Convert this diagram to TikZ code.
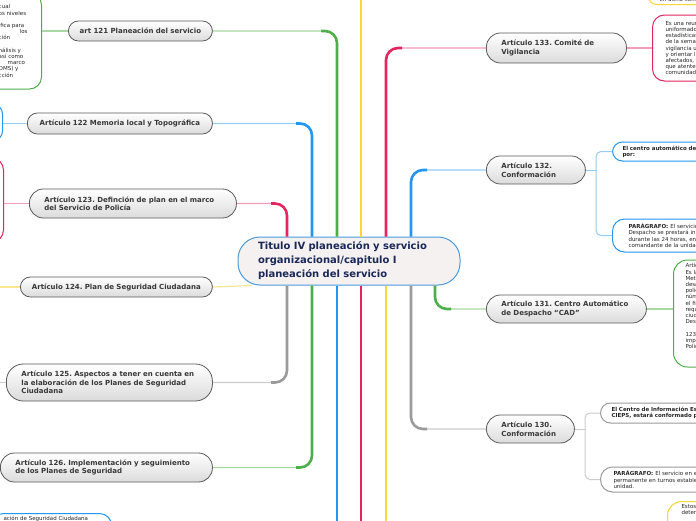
\documentclass[tikz,border=0pt]{standalone}
\usepackage{fontspec}
\setmainfont{DejaVu Sans}
\usetikzlibrary{calc}
\frenchspacing

\definecolor{mmGreen}{HTML}{4DAF4A}
\definecolor{mmGreenL}{HTML}{A9D8A2}
\definecolor{mmBlue}{HTML}{2196F3}
\definecolor{mmBlueL}{HTML}{93CDF8}
\definecolor{mmPink}{HTML}{E6245F}
\definecolor{mmPinkL}{HTML}{F59BBB}
\definecolor{mmYellow}{HTML}{F9D535}
\definecolor{mmYellowL}{HTML}{FBE792}
\definecolor{mmGray}{HTML}{9A9A9A}
\definecolor{mmGrayL}{HTML}{CCCCCC}
\definecolor{mmNavy}{HTML}{1A2857}
\definecolor{mmTitleFill}{HTML}{F5F1F1}
\definecolor{mmTitleLine}{HTML}{4A9BDB}

\begin{document}
\begin{tikzpicture}[x=1pt, y=-1pt,
    topic/.style={rectangle, rounded corners=10pt, draw=black!65, line width=0.8pt, top color=white, bottom color=black!14, text=black!78, font=\fontsize{7}{8.5}\selectfont\bfseries, inner ysep=2pt},
    leaf/.style={rectangle, rounded corners=10pt, draw=#1, line width=1pt, fill=white, text=black!85, font=\fontsize{5.5}{6.2}\selectfont, align=left, inner ysep=3pt},
    trunk/.style={draw=#1, line width=2.6pt, rounded corners=12pt},
    twig/.style={draw=#1, line width=1.2pt, rounded corners=12pt}]
    \useasboundingbox (0,0) rectangle (696,520);
    \fill[white] (0,0) rectangle (696,520);
    \clip (0,0) rectangle (696,520);

    % Main topic
    \node [rectangle, rounded corners=22pt, draw=mmTitleLine, line width=1pt, fill=mmTitleFill, text=mmNavy, font=\fontsize{10}{14}\selectfont\bfseries, text width=182pt, inner xsep=20pt, inner ysep=2pt, minimum height=48pt, align=left] (titulo) at (349,261) {Titulo IV planeación y servicio\\organizacional/capitulo I\\planeación del servicio};

    % Articles, left
    \node [topic, anchor=west, text width=130pt, inner xsep=7pt, minimum height=20pt, align=center] (art121) at (68,31) {art 121 Planeación del servicio};
    \node [topic, anchor=west, text width=171pt, inner xsep=7pt, minimum height=21pt, align=center] (art122) at (27,123.5) {Artículo 122 Memoria local y Topográfica};
    \node [topic, anchor=west, text width=177pt, inner xsep=15pt, minimum height=29pt, rounded corners=14pt, align=left] (art123) at (29,203.5) {Artículo 123. Definción de plan en el marco\\del Servicio de Policía};
    \node [topic, anchor=west, text width=178pt, inner xsep=7pt, minimum height=20pt, align=center] (art124) at (20,287) {Artículo 124. Plan de Seguridad Ciudadana};
    \node [topic, anchor=west, text width=176pt, inner xsep=15pt, minimum height=37pt, rounded corners=17pt, align=left] (art125) at (6,382.5) {Artículo 125. Aspectos a tener en cuenta en\\la elaboración de los Planes de Seguridad\\Ciudadana};
    \node [topic, anchor=west, text width=182pt, inner xsep=15pt, minimum height=29pt, rounded corners=14pt, align=left] (art126) at (0,467.5) {Artículo 126. Implementación y seguimiento\\de los Planes de Seguridad};

    % Articles, right
    \node [topic, anchor=west, text width=110pt, inner xsep=15pt, minimum height=30pt, rounded corners=14pt, align=left] (art133) at (486,48) {Artículo 133. Comité de\\Vigilancia};
    \node [topic, anchor=west, text width=69pt, inner xsep=15pt, minimum height=28pt, rounded corners=14pt, align=left] (art132) at (486,170) {Artículo 132.\\Conformación};
    \node [topic, anchor=west, text width=130pt, inner xsep=15pt, minimum height=28pt, rounded corners=14pt, align=left] (art131) at (486,309) {Artículo 131. Centro Automático\\de Despacho “CAD”};
    \node [topic, anchor=west, text width=58pt, inner xsep=15pt, minimum height=28pt, rounded corners=14pt, align=left] (art130) at (486,429) {Artículo 130.\\Conformación};

    % Details
    \node [leaf=mmGreen, anchor=east, inner xsep=14pt, minimum height=96pt, rounded corners=12pt] (leaf121) at (42,41) {cual\\os niveles\\[6.2pt]ífica para\\\hspace*{21pt}los\\ción\\[6.2pt]nálisis y\\así como\\\hspace*{9pt}marco\\OMS) y\\cción};
    \node [leaf=mmBlue, anchor=east, minimum width=40pt, minimum height=37pt] (leaf122) at (3,122.5) {};
    \node [leaf=mmPink, anchor=east, minimum width=40pt, minimum height=84pt, rounded corners=12pt] (leaf123) at (4,200) {};
    \node [leaf=mmBlue, anchor=north east, text width=96pt, inner xsep=12pt, rounded corners=12pt] (leafLow) at (112,513) {ación de Seguridad Ciudadana\\[14pt]\mbox{}};
    \node [leaf=mmYellow, anchor=south west, text width=120pt, inner xsep=11pt, rounded corners=8pt] (leafTop) at (648,5) {\mbox{}\\en dicho comité};
    \node [leaf=mmPink, anchor=west, text width=120pt, inner xsep=13pt, minimum height=66pt, rounded corners=12pt] (leaf133) at (652,48) {Es una reunión\\uniformados\\estadísticas\\de la semana\\vigilancia u\\y orientar la\\afectados, y\\que atenten\\comunidad};
    \node [leaf=mmBlue, anchor=west, text width=150pt, inner xsep=10pt, minimum height=19pt, font=\fontsize{5.5}{6.2}\selectfont\bfseries] (conf132a) at (612,151.5) {El centro automático de\\por:};
    \node [leaf=mmBlue, anchor=west, text width=150pt, inner xsep=16pt, minimum height=33pt, rounded corners=12pt] (conf132b) at (612,235.5) {\textbf{PARÁGRAFO:} El servicio\\Despacho se prestará ininterrumpido\\durante las 24 horas, en\\comandante de la unidad};
    \node [leaf=mmGreen, anchor=west, text width=120pt, inner xsep=12pt, minimum height=107pt, rounded corners=14pt] (cad131) at (673,313.5) {Artículo\\Es la\\Metropolitana\\desarrollo\\policial\\número\\el fin\\requiere\\ciudadanos\\Despacho\\[6.2pt]123\\implementado\\Policía\\[9pt]\mbox{}};
    \node [leaf=mmGray, anchor=west, text width=150pt, inner xsep=11pt, minimum height=20pt, font=\fontsize{5.5}{6.2}\selectfont\bfseries] (conf130a) at (600,413) {El Centro de Información Estratégica\\CIEPS, estará conformado por:};
    \node [leaf=mmGray, anchor=west, text width=150pt, inner xsep=13pt, minimum height=25pt, rounded corners=12pt] (conf130b) at (600,479.5) {\textbf{PARÁGRAFO:} El servicio en el\\permanente en turnos establecidos\\unidad.};
    \node [leaf=mmYellow, anchor=north west, text width=120pt, inner xsep=14pt, rounded corners=14pt] (leafBot) at (667,501) {Estos\\detenidos\\[12pt]\mbox{}};

    % Trunk positions
    \coordinate (x287) at (287,0);
    \coordinate (x312) at (312,0);
    \coordinate (x337) at (337,0);
    \coordinate (x361) at (361,0);
    \coordinate (x386) at (386,0);
    \coordinate (x411) at (411,0);
    \coordinate (x435) at (435,0);
    \coordinate (topedge) at (0,-6);
    \coordinate (botedge) at (0,526);
    \coordinate (off124) at (-10,287);
    \coordinate (off125) at (-10,382.5);

    % Branches, up
    \draw[twig=mmGreenL] (x337 |- titulo.north) |- (art121.east);
    \draw[trunk=mmGreen] (x337 |- titulo.north) |- ($(x337 |- art121.east)+(-16,0)$);
    \draw[twig=mmBlueL] (x312 |- titulo.north) |- (art122.east);
    \draw[trunk=mmBlue] (x312 |- titulo.north) |- ($(x312 |- art122.east)+(-16,0)$);
    \draw[twig=mmPinkL] (x287 |- titulo.north) |- (art123.east);
    \draw[trunk=mmPink] (x287 |- titulo.north) |- ($(x287 |- art123.east)+(-16,0)$);
    \draw[trunk=mmYellow] (x361 |- titulo.north) -- (x361 |- topedge);
    \draw[twig=mmPinkL] (x386 |- titulo.north) |- (art133.west);
    \draw[trunk=mmPink] (x386 |- titulo.north) |- ($(x386 |- art133.west)+(16,0)$);
    \draw[twig=mmBlueL] (x411 |- titulo.north) |- (art132.west);
    \draw[trunk=mmBlue] (x411 |- titulo.north) |- ($(x411 |- art132.west)+(16,0)$);

    % Branches, down
    \draw[twig=mmYellowL] (art124.east) -- ([xshift=14pt]titulo.south west);
    \draw[twig=mmGrayL] (x287 |- titulo.south) |- (art125.east);
    \draw[trunk=mmGray] (x287 |- titulo.south) |- ($(x287 |- art125.east)+(-16,0)$);
    \draw[twig=mmGreenL] (x312 |- titulo.south) |- (art126.east);
    \draw[trunk=mmGreen] (x312 |- titulo.south) |- ($(x312 |- art126.east)+(-16,0)$);
    \draw[trunk=mmBlue] (x337 |- titulo.south) -- (x337 |- botedge);
    \draw[trunk=mmPink] (x361 |- titulo.south) -- (x361 |- botedge);
    \draw[trunk=mmYellow] (x386 |- titulo.south) -- (x386 |- botedge);
    \draw[twig=mmGrayL] (x411 |- titulo.south) |- (art130.west);
    \draw[trunk=mmGray] (x411 |- titulo.south) |- ($(x411 |- art130.west)+(16,0)$);
    \draw[twig=mmGreenL] (x435 |- titulo.south) |- (art131.west);
    \draw[trunk=mmGreen] (x435 |- titulo.south) |- ($(x435 |- art131.west)+(16,0)$);

    % Links to details
    \draw[twig=mmGreenL] (art121.west) -- (art121.west -| leaf121.east);
    \draw[twig=mmBlueL] (art122.west) -- (art122.west -| leaf122.east);
    \draw[twig=mmPinkL] (art123.west) -- (art123.west -| leaf123.east);
    \draw[twig=mmYellowL] (art124.west) -- (off124);
    \draw[twig=mmGrayL] (art125.west) -- (off125);
    \draw[twig=mmPinkL] (art133.east) -- (art133.east -| leaf133.west);
    \draw[twig=mmGreenL] (art131.east) -- (art131.east -| cad131.west);
    \draw[twig=mmBlueL, line width=1pt] (art132.east) -- ++(11,0);
    \draw[twig=mmBlueL, line width=1pt, rounded corners=5pt] (conf132a.west) -- ++(-16,0) |- (conf132b.west);
    \draw[twig=mmGrayL, line width=1pt] (art130.east) -- ++(11,0);
    \draw[twig=mmGrayL, line width=1pt, rounded corners=5pt] (conf130a.west) -- ++(-15,0) |- (conf130b.west);
\end{tikzpicture}
\end{document}
